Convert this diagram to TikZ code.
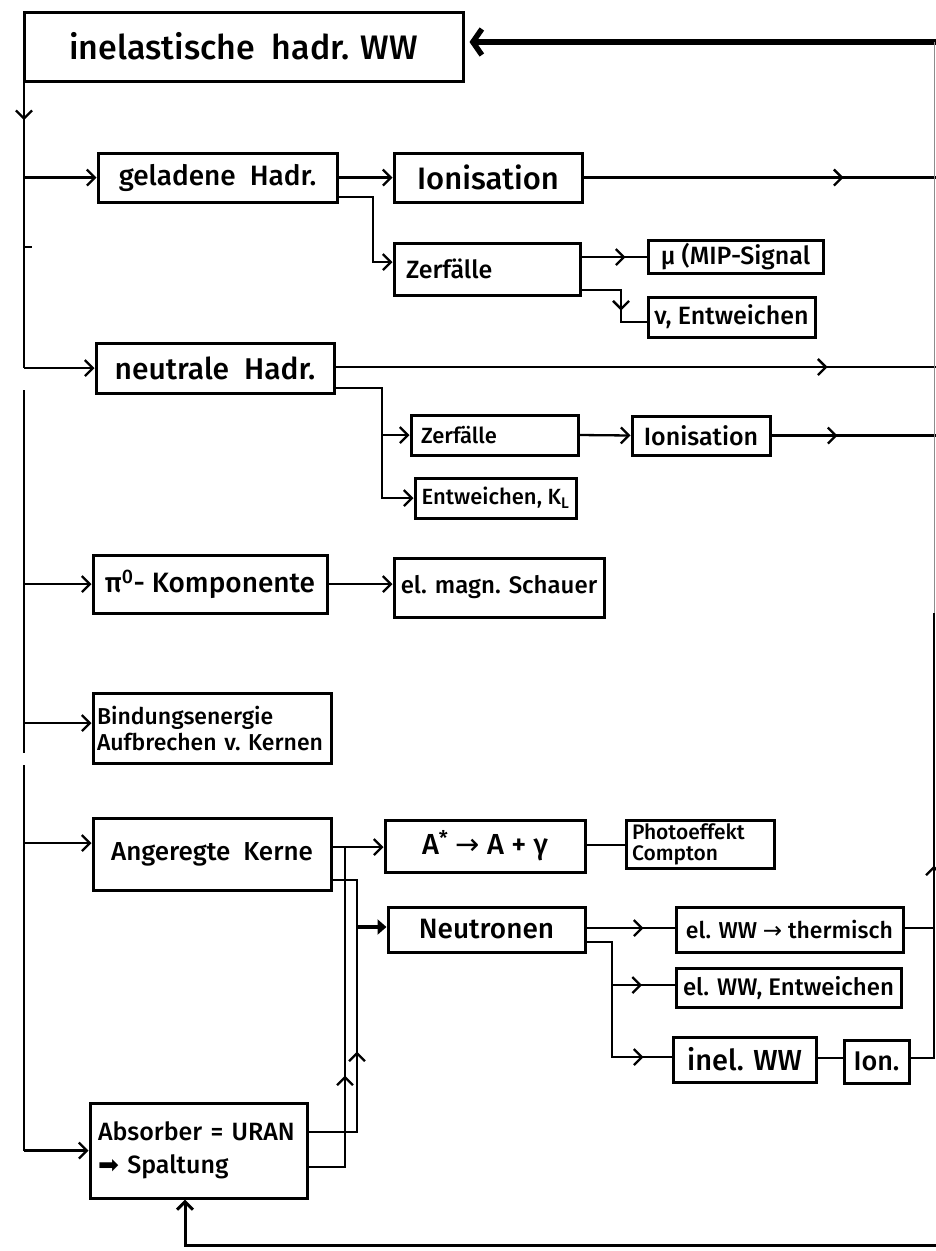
\documentclass[tikz,border=0pt]{standalone}
\usepackage{fontspec}
\setmainfont{Fira Sans}[UprightFont=* Medium]
\newfontfamily\sym{DejaVu Sans}
\usetikzlibrary{arrows.meta,calc,decorations.markings}
\begin{document}
\begin{tikzpicture}[x=1pt,y=-1pt,
  box/.style={draw, line width=3pt, inner sep=0pt, align=center},
  ln/.style={line width=2.3pt},
  arr/.style={line width=2.3pt, -{Straight Barb[length=8pt,width=16pt]}},
  midarr/.style={postaction={decorate}, decoration={markings,
      mark=at position #1 with {\arrow[line width=2.3pt]{Straight Barb[length=8pt,width=16pt]}}}},
  fs/.style={font=\fontsize{#1}{#1}\selectfont},
]
\useasboundingbox (0,0) rectangle (936,1251);
\fill[white] (0,0) rectangle (936,1251);

% ---------------- boxes ----------------
\node[box, minimum width=439pt, minimum height=69pt, fs=34] (A) at (243.5,46.5) {inelastische\ \ hadr. WW};
\node[box, minimum width=239pt, minimum height=49pt, fs=28] (B) at (217.5,177.5) {geladene\ \ Hadr.};
\node[box, minimum width=188pt, minimum height=49pt, fs=31] (C) at (488,177.5) {Ionisation};
\node[box, text width=162pt, inner xsep=12pt, minimum height=52pt, align=left, fs=25] (D) at (487,269) {Zerfälle};
\node[box, minimum width=175pt, minimum height=33pt, fs=25] (E) at (735.5,256.5) {μ (MIP-Signal};
\node[box, minimum width=167pt, minimum height=40pt, fs=25] (F) at (731.5,317) {ν, Entweichen};
\node[box, minimum width=238pt, minimum height=50pt, fs=30] (G) at (215,368) {neutrale\ \ Hadr.};
\node[box, text width=147pt, inner xsep=10pt, minimum height=40pt, align=left, fs=22] (H) at (494.5,435) {Zerfälle};
\node[box, minimum width=138pt, minimum height=39pt, fs=25] (I) at (701,435.5) {Ionisation};
\node[box, minimum width=161pt, minimum height=40pt, fs=22] (J) at (495.5,498) {Entweichen, K\textsubscript{L}};
\node[box, minimum width=234pt, minimum height=58pt, fs=28] (K) at (210,584) {π\textsuperscript{0}- Komponente};
\node[box, minimum width=210pt, minimum height=59pt, fs=24] (L) at (499,587.5) {el. magn. Schauer};
\node[box, text width=230pt, inner xsep=4pt, minimum height=70pt, align=left, fs=23] (M) at (212,728) {Bindungsenergie\\[3pt]Aufbrechen v.\ Kernen};
\node[box, minimum width=238pt, minimum height=72pt, fs=26] (N) at (212,854) {Angeregte\ \ Kerne};
\node[box, minimum width=200pt, minimum height=52pt, fs=29] (O) at (485,846) {A\textsuperscript{*} {\sym →} A + γ};
\node[box, text width=136pt, inner xsep=6pt, minimum height=48pt, align=left, fs=21] (P) at (700,844) {Photoeffekt\\Compton};
\node[box, minimum width=197pt, minimum height=45pt, fs=28] (Q) at (486.5,929.5) {Neutronen};
\node[box, minimum width=227pt, minimum height=45pt, fs=23] (R) at (789.5,929.5) {el. WW {\sym →} thermisch};
\node[box, minimum width=225pt, minimum height=39pt, fs=24] (S) at (788.5,987.5) {el. WW, Entweichen};
\node[box, minimum width=143pt, minimum height=45pt, fs=29] (T) at (744.5,1059.5) {inel. WW};
\node[box, minimum width=65pt, minimum height=43pt, fs=27] (U) at (876.5,1061.5) {Ion.};
\node[box, text width=201pt, inner xsep=8pt, minimum height=95pt, align=left, fs=25] (V) at (198.5,1150.5) {Absorber = URAN\\[8pt]{\sym ➡} Spaltung};

% ---------------- free ends ----------------
\coordinate (rtop) at (936,42);
\coordinate (rC) at (936,177.5);
\coordinate (rG) at (936,367);
\coordinate (rI) at (936,435.5);
\coordinate (rbot) at (936,1245);
\coordinate (tr0) at (24,81);
\coordinate (tr1) at (24,368);
\coordinate (tr2) at (24,390);
\coordinate (tr3) at (24,753);
\coordinate (tr4) at (24,765);
\coordinate (tr5) at (24,1150.5);
\coordinate (rv) at (934,42);

% ---------------- connectors ----------------
% feedback to top box
\draw[line width=5.5pt, -{Straight Barb[length=9pt,width=26pt]}, shorten >=5pt] (rtop) -- (A.east |- rtop);
% first trunk
\draw[ln, midarr=39pt] (tr0) -- (tr1);
\draw[arr] (tr1) -- (G.west);
\draw[arr] (24,177.5) -- (B.west);
\draw[ln] (24,247) -- (32,247);
% geladene
\draw[arr] (B.east) -- (C.west);
\draw[arr] (B.east |- 0,197) -- (373,197) -- (373,262) -- (D.west |- 0,262);
\draw[ln, midarr=260pt] (C.east) -- (rC);
\draw[ln, midarr=44pt] (D.east |- 0,257) -- (E.west |- 0,257);
\draw[ln, midarr=60pt] (D.east |- 0,290) -- (621,290) -- (621,322) -- (F.west |- 0,322);
% neutrale
\draw[ln, midarr=492pt] (G.east |- 0,367) -- (rG);
\draw[arr] (G.east |- 0,388) -- (382,388) -- (382,498) -- (J.west);
\draw[arr] (382,435) -- (H.west);
\draw[arr] (H.east) -- (I.west);
\draw[ln, midarr=66pt] (I.east) -- (rI);
% second trunk
\draw[ln] (tr2) -- (tr3);
\draw[ln] (tr4) -- (tr5);
\draw[arr] (tr5) -- (V.west);
\draw[arr] (24,584) -- (K.west);
\draw[arr] (24,723) -- (M.west |- 0,723);
\draw[arr] (24,843) -- (N.west |- 0,843);
\draw[arr] (K.east) -- (L.west |- K.east);
% angeregte Kerne
\draw[arr] (N.east |- 0,847) -- (O.west |- 0,847);
\draw[ln] (O.east |- 0,845) -- (P.west |- 0,845);
\draw[ln] (N.east |- 0,880) -- (357,880) -- (357,927);
\draw[line width=4.5pt, -{Triangle[length=9pt,width=15pt]}] (357,927) -- (Q.west |- 0,927);
\draw[ln, midarr=128pt] (V.east |- 0,1167) -- (345,1167) -- (345,847);
\draw[ln, midarr=129pt] (V.east |- 0,1132) -- (357,1132) -- (357,880);
% Neutronen
\draw[ln, midarr=57pt] (Q.east |- 0,928) -- (R.west |- 0,928);
\draw[ln, midarr=172pt] (Q.east |- 0,942) -- (612,942) -- (612,1057) -- (T.west |- 0,1057);
\draw[ln, midarr=30pt] (612,985) -- (S.west |- 0,985);
\draw[ln] (T.east |- 0,1058) -- (U.west |- 0,1058);
% right vertical line
\draw[ln, midarr=216pt] (U.east |- 0,1058) -- (934,1058) -- (934,613);
\draw[line width=0.8pt, black!45] (934,613) -- (rv);
\draw[ln] (R.east |- 0,928) -- (934,928);
% bottom feedback to absorber
\draw[line width=3pt, -{Straight Barb[length=8pt,width=16pt]}] (rbot) -- (185,1245) -- (185,1245 |- V.south);
\end{tikzpicture}
\end{document}
